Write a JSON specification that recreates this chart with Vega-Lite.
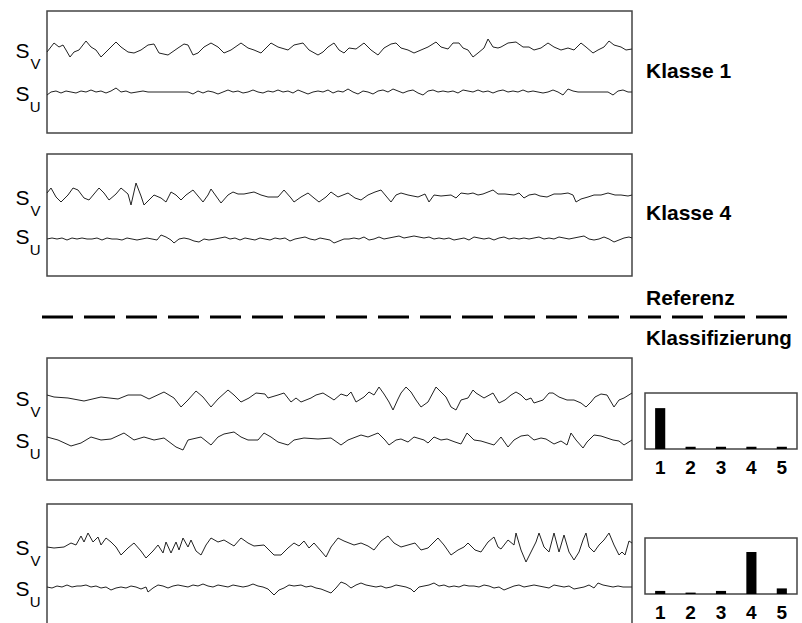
{
"$schema": "https://vega.github.io/schema/vega-lite/v6.json",
"background": "white",
"padding": {"left": 14, "top": 10, "right": 0, "bottom": 0},
"config": {"view": {"stroke": "#444", "strokeWidth": 1.5}, "font": "Liberation Sans"},
"datasets": {
"p1": [
{"c":"V","t":0,"v":81},{"c":"V","t":7,"v":90},{"c":"V","t":12,"v":86},{"c":"V","t":16,"v":88},{"c":"V","t":19,"v":83},{"c":"V","t":23,"v":76},{"c":"V","t":27,"v":81},{"c":"V","t":32,"v":83},{"c":"V","t":39,"v":92},{"c":"V","t":44,"v":86},{"c":"V","t":49,"v":83},{"c":"V","t":54,"v":76},{"c":"V","t":61,"v":83},{"c":"V","t":69,"v":91},{"c":"V","t":74,"v":86},{"c":"V","t":81,"v":81},{"c":"V","t":87,"v":80},{"c":"V","t":94,"v":83},{"c":"V","t":101,"v":88},{"c":"V","t":107,"v":89},{"c":"V","t":112,"v":80},{"c":"V","t":121,"v":78},{"c":"V","t":131,"v":85},{"c":"V","t":137,"v":89},{"c":"V","t":141,"v":88},{"c":"V","t":146,"v":78},{"c":"V","t":151,"v":80},{"c":"V","t":157,"v":86},{"c":"V","t":164,"v":90},{"c":"V","t":171,"v":86},{"c":"V","t":177,"v":80},{"c":"V","t":184,"v":83},{"c":"V","t":194,"v":90},{"c":"V","t":201,"v":85},{"c":"V","t":207,"v":83},{"c":"V","t":214,"v":80},{"c":"V","t":224,"v":90},{"c":"V","t":231,"v":86},{"c":"V","t":241,"v":83},{"c":"V","t":247,"v":88},{"c":"V","t":256,"v":90},{"c":"V","t":262,"v":83},{"c":"V","t":271,"v":78},{"c":"V","t":276,"v":81},{"c":"V","t":281,"v":86},{"c":"V","t":287,"v":90},{"c":"V","t":292,"v":83},{"c":"V","t":297,"v":80},{"c":"V","t":302,"v":85},{"c":"V","t":309,"v":84},{"c":"V","t":317,"v":90},{"c":"V","t":324,"v":83},{"c":"V","t":331,"v":78},{"c":"V","t":337,"v":85},{"c":"V","t":344,"v":89},{"c":"V","t":349,"v":90},{"c":"V","t":354,"v":85},{"c":"V","t":361,"v":83},{"c":"V","t":367,"v":80},{"c":"V","t":374,"v":83},{"c":"V","t":381,"v":86},{"c":"V","t":389,"v":91},{"c":"V","t":394,"v":86},{"c":"V","t":401,"v":84},{"c":"V","t":406,"v":90},{"c":"V","t":412,"v":90},{"c":"V","t":416,"v":85},{"c":"V","t":421,"v":83},{"c":"V","t":426,"v":76},{"c":"V","t":431,"v":80},{"c":"V","t":437,"v":85},{"c":"V","t":441,"v":94},{"c":"V","t":446,"v":86},{"c":"V","t":451,"v":85},{"c":"V","t":454,"v":86},{"c":"V","t":461,"v":90},{"c":"V","t":469,"v":91},{"c":"V","t":476,"v":86},{"c":"V","t":482,"v":86},{"c":"V","t":487,"v":83},{"c":"V","t":494,"v":85},{"c":"V","t":501,"v":90},{"c":"V","t":507,"v":86},{"c":"V","t":514,"v":83},{"c":"V","t":521,"v":85},{"c":"V","t":527,"v":83},{"c":"V","t":534,"v":90},{"c":"V","t":539,"v":86},{"c":"V","t":546,"v":80},{"c":"V","t":551,"v":83},{"c":"V","t":557,"v":86},{"c":"V","t":562,"v":92},{"c":"V","t":567,"v":88},{"c":"V","t":574,"v":86},{"c":"V","t":579,"v":83},{"c":"V","t":585,"v":84},
{"c":"U","t":0,"v":38},{"c":"U","t":4,"v":41},{"c":"U","t":9,"v":42},{"c":"U","t":14,"v":40},{"c":"U","t":19,"v":42},{"c":"U","t":24,"v":41},{"c":"U","t":29,"v":40},{"c":"U","t":34,"v":42},{"c":"U","t":39,"v":41},{"c":"U","t":44,"v":43},{"c":"U","t":49,"v":41},{"c":"U","t":54,"v":42},{"c":"U","t":59,"v":40},{"c":"U","t":64,"v":42},{"c":"U","t":69,"v":45},{"c":"U","t":74,"v":41},{"c":"U","t":79,"v":42},{"c":"U","t":84,"v":40},{"c":"U","t":90,"v":41},{"c":"U","t":96,"v":42},{"c":"U","t":101,"v":41},{"c":"U","t":106,"v":41},{"c":"U","t":141,"v":41},{"c":"U","t":146,"v":39},{"c":"U","t":151,"v":42},{"c":"U","t":156,"v":40},{"c":"U","t":161,"v":42},{"c":"U","t":166,"v":41},{"c":"U","t":171,"v":39},{"c":"U","t":176,"v":41},{"c":"U","t":181,"v":43},{"c":"U","t":186,"v":41},{"c":"U","t":191,"v":42},{"c":"U","t":196,"v":40},{"c":"U","t":201,"v":41},{"c":"U","t":206,"v":43},{"c":"U","t":211,"v":41},{"c":"U","t":216,"v":40},{"c":"U","t":221,"v":42},{"c":"U","t":226,"v":41},{"c":"U","t":231,"v":43},{"c":"U","t":236,"v":41},{"c":"U","t":241,"v":42},{"c":"U","t":246,"v":40},{"c":"U","t":251,"v":43},{"c":"U","t":256,"v":41},{"c":"U","t":261,"v":39},{"c":"U","t":266,"v":41},{"c":"U","t":271,"v":42},{"c":"U","t":276,"v":41},{"c":"U","t":281,"v":43},{"c":"U","t":286,"v":40},{"c":"U","t":291,"v":42},{"c":"U","t":296,"v":41},{"c":"U","t":301,"v":44},{"c":"U","t":306,"v":41},{"c":"U","t":311,"v":39},{"c":"U","t":316,"v":42},{"c":"U","t":321,"v":41},{"c":"U","t":326,"v":39},{"c":"U","t":331,"v":42},{"c":"U","t":336,"v":43},{"c":"U","t":341,"v":41},{"c":"U","t":346,"v":44},{"c":"U","t":351,"v":42},{"c":"U","t":356,"v":40},{"c":"U","t":361,"v":42},{"c":"U","t":366,"v":43},{"c":"U","t":371,"v":40},{"c":"U","t":376,"v":38},{"c":"U","t":381,"v":42},{"c":"U","t":386,"v":43},{"c":"U","t":391,"v":41},{"c":"U","t":396,"v":42},{"c":"U","t":401,"v":41},{"c":"U","t":406,"v":42},{"c":"U","t":411,"v":40},{"c":"U","t":416,"v":43},{"c":"U","t":421,"v":42},{"c":"U","t":426,"v":41},{"c":"U","t":431,"v":43},{"c":"U","t":436,"v":41},{"c":"U","t":441,"v":42},{"c":"U","t":446,"v":40},{"c":"U","t":451,"v":42},{"c":"U","t":456,"v":43},{"c":"U","t":461,"v":41},{"c":"U","t":466,"v":42},{"c":"U","t":471,"v":41},{"c":"U","t":476,"v":43},{"c":"U","t":481,"v":41},{"c":"U","t":486,"v":42},{"c":"U","t":491,"v":41},{"c":"U","t":496,"v":40},{"c":"U","t":501,"v":41},{"c":"U","t":506,"v":43},{"c":"U","t":511,"v":41},{"c":"U","t":516,"v":38},{"c":"U","t":521,"v":44},{"c":"U","t":526,"v":42},{"c":"U","t":531,"v":41},{"c":"U","t":536,"v":41},{"c":"U","t":561,"v":41},{"c":"U","t":566,"v":38},{"c":"U","t":571,"v":42},{"c":"U","t":576,"v":43},{"c":"U","t":581,"v":41},{"c":"U","t":585,"v":41}
],
"p2": [
{"c":"V","t":0,"v":83},{"c":"V","t":4,"v":88},{"c":"V","t":9,"v":79},{"c":"V","t":14,"v":74},{"c":"V","t":21,"v":81},{"c":"V","t":26,"v":88},{"c":"V","t":31,"v":86},{"c":"V","t":37,"v":78},{"c":"V","t":42,"v":76},{"c":"V","t":47,"v":82},{"c":"V","t":52,"v":88},{"c":"V","t":57,"v":83},{"c":"V","t":62,"v":76},{"c":"V","t":69,"v":82},{"c":"V","t":74,"v":88},{"c":"V","t":81,"v":82},{"c":"V","t":84,"v":71},{"c":"V","t":89,"v":93},{"c":"V","t":94,"v":80},{"c":"V","t":97,"v":71},{"c":"V","t":102,"v":76},{"c":"V","t":107,"v":81},{"c":"V","t":114,"v":78},{"c":"V","t":119,"v":74},{"c":"V","t":124,"v":84},{"c":"V","t":129,"v":81},{"c":"V","t":134,"v":76},{"c":"V","t":139,"v":81},{"c":"V","t":146,"v":86},{"c":"V","t":151,"v":80},{"c":"V","t":156,"v":74},{"c":"V","t":161,"v":81},{"c":"V","t":164,"v":87},{"c":"V","t":169,"v":80},{"c":"V","t":174,"v":73},{"c":"V","t":181,"v":81},{"c":"V","t":186,"v":84},{"c":"V","t":191,"v":82},{"c":"V","t":197,"v":82},{"c":"V","t":207,"v":84},{"c":"V","t":214,"v":81},{"c":"V","t":221,"v":79},{"c":"V","t":231,"v":79},{"c":"V","t":237,"v":86},{"c":"V","t":244,"v":78},{"c":"V","t":247,"v":74},{"c":"V","t":254,"v":79},{"c":"V","t":261,"v":83},{"c":"V","t":267,"v":78},{"c":"V","t":272,"v":74},{"c":"V","t":279,"v":79},{"c":"V","t":284,"v":84},{"c":"V","t":291,"v":79},{"c":"V","t":296,"v":81},{"c":"V","t":301,"v":83},{"c":"V","t":308,"v":78},{"c":"V","t":314,"v":76},{"c":"V","t":321,"v":81},{"c":"V","t":328,"v":84},{"c":"V","t":334,"v":86},{"c":"V","t":339,"v":80},{"c":"V","t":344,"v":74},{"c":"V","t":349,"v":81},{"c":"V","t":354,"v":83},{"c":"V","t":361,"v":81},{"c":"V","t":371,"v":79},{"c":"V","t":378,"v":82},{"c":"V","t":382,"v":74},{"c":"V","t":387,"v":81},{"c":"V","t":394,"v":80},{"c":"V","t":404,"v":81},{"c":"V","t":409,"v":78},{"c":"V","t":414,"v":83},{"c":"V","t":421,"v":82},{"c":"V","t":426,"v":83},{"c":"V","t":431,"v":81},{"c":"V","t":436,"v":82},{"c":"V","t":446,"v":86},{"c":"V","t":451,"v":82},{"c":"V","t":458,"v":82},{"c":"V","t":467,"v":81},{"c":"V","t":472,"v":83},{"c":"V","t":477,"v":78},{"c":"V","t":482,"v":81},{"c":"V","t":488,"v":82},{"c":"V","t":493,"v":80},{"c":"V","t":500,"v":79},{"c":"V","t":507,"v":82},{"c":"V","t":514,"v":82},{"c":"V","t":521,"v":83},{"c":"V","t":526,"v":81},{"c":"V","t":529,"v":74},{"c":"V","t":534,"v":77},{"c":"V","t":541,"v":79},{"c":"V","t":547,"v":81},{"c":"V","t":554,"v":81},{"c":"V","t":561,"v":83},{"c":"V","t":568,"v":81},{"c":"V","t":574,"v":81},{"c":"V","t":581,"v":80},{"c":"V","t":585,"v":81},
{"c":"U","t":0,"v":37},{"c":"U","t":5,"v":38},{"c":"U","t":10,"v":37},{"c":"U","t":15,"v":38},{"c":"U","t":20,"v":36},{"c":"U","t":25,"v":38},{"c":"U","t":30,"v":37},{"c":"U","t":35,"v":38},{"c":"U","t":40,"v":37},{"c":"U","t":45,"v":37},{"c":"U","t":50,"v":38},{"c":"U","t":55,"v":36},{"c":"U","t":60,"v":38},{"c":"U","t":65,"v":37},{"c":"U","t":70,"v":37},{"c":"U","t":75,"v":36},{"c":"U","t":80,"v":38},{"c":"U","t":85,"v":37},{"c":"U","t":90,"v":36},{"c":"U","t":95,"v":37},{"c":"U","t":100,"v":38},{"c":"U","t":105,"v":37},{"c":"U","t":110,"v":36},{"c":"U","t":114,"v":41},{"c":"U","t":119,"v":39},{"c":"U","t":124,"v":36},{"c":"U","t":127,"v":33},{"c":"U","t":132,"v":37},{"c":"U","t":137,"v":38},{"c":"U","t":142,"v":37},{"c":"U","t":147,"v":35},{"c":"U","t":152,"v":34},{"c":"U","t":157,"v":37},{"c":"U","t":162,"v":36},{"c":"U","t":168,"v":37},{"c":"U","t":173,"v":38},{"c":"U","t":178,"v":39},{"c":"U","t":183,"v":37},{"c":"U","t":188,"v":38},{"c":"U","t":193,"v":36},{"c":"U","t":198,"v":38},{"c":"U","t":203,"v":37},{"c":"U","t":208,"v":36},{"c":"U","t":213,"v":38},{"c":"U","t":218,"v":37},{"c":"U","t":223,"v":36},{"c":"U","t":228,"v":38},{"c":"U","t":233,"v":37},{"c":"U","t":238,"v":38},{"c":"U","t":243,"v":35},{"c":"U","t":248,"v":37},{"c":"U","t":253,"v":38},{"c":"U","t":258,"v":39},{"c":"U","t":263,"v":37},{"c":"U","t":268,"v":36},{"c":"U","t":273,"v":38},{"c":"U","t":278,"v":37},{"c":"U","t":283,"v":36},{"c":"U","t":287,"v":33},{"c":"U","t":292,"v":35},{"c":"U","t":297,"v":37},{"c":"U","t":302,"v":37},{"c":"U","t":307,"v":38},{"c":"U","t":312,"v":37},{"c":"U","t":317,"v":39},{"c":"U","t":322,"v":36},{"c":"U","t":327,"v":37},{"c":"U","t":332,"v":39},{"c":"U","t":337,"v":37},{"c":"U","t":342,"v":38},{"c":"U","t":347,"v":39},{"c":"U","t":352,"v":40},{"c":"U","t":357,"v":38},{"c":"U","t":362,"v":39},{"c":"U","t":367,"v":40},{"c":"U","t":372,"v":39},{"c":"U","t":377,"v":38},{"c":"U","t":382,"v":39},{"c":"U","t":387,"v":37},{"c":"U","t":392,"v":38},{"c":"U","t":397,"v":37},{"c":"U","t":402,"v":38},{"c":"U","t":407,"v":36},{"c":"U","t":412,"v":37},{"c":"U","t":417,"v":38},{"c":"U","t":422,"v":36},{"c":"U","t":427,"v":39},{"c":"U","t":432,"v":38},{"c":"U","t":437,"v":37},{"c":"U","t":442,"v":38},{"c":"U","t":447,"v":36},{"c":"U","t":452,"v":38},{"c":"U","t":457,"v":39},{"c":"U","t":462,"v":37},{"c":"U","t":467,"v":38},{"c":"U","t":472,"v":37},{"c":"U","t":477,"v":38},{"c":"U","t":482,"v":37},{"c":"U","t":487,"v":38},{"c":"U","t":492,"v":39},{"c":"U","t":497,"v":37},{"c":"U","t":502,"v":38},{"c":"U","t":507,"v":37},{"c":"U","t":512,"v":39},{"c":"U","t":517,"v":38},{"c":"U","t":522,"v":37},{"c":"U","t":527,"v":38},{"c":"U","t":532,"v":39},{"c":"U","t":537,"v":40},{"c":"U","t":542,"v":37},{"c":"U","t":547,"v":36},{"c":"U","t":552,"v":37},{"c":"U","t":557,"v":39},{"c":"U","t":562,"v":37},{"c":"U","t":567,"v":34},{"c":"U","t":572,"v":36},{"c":"U","t":577,"v":38},{"c":"U","t":582,"v":39},{"c":"U","t":585,"v":38}
],
"p3": [
{"c":"V","t":0,"v":85},{"c":"V","t":7,"v":83},{"c":"V","t":21,"v":82},{"c":"V","t":37,"v":79},{"c":"V","t":54,"v":83},{"c":"V","t":71,"v":81},{"c":"V","t":81,"v":85},{"c":"V","t":94,"v":85},{"c":"V","t":102,"v":81},{"c":"V","t":117,"v":88},{"c":"V","t":127,"v":82},{"c":"V","t":134,"v":73},{"c":"V","t":141,"v":80},{"c":"V","t":149,"v":89},{"c":"V","t":156,"v":83},{"c":"V","t":164,"v":73},{"c":"V","t":171,"v":81},{"c":"V","t":181,"v":90},{"c":"V","t":187,"v":85},{"c":"V","t":194,"v":78},{"c":"V","t":202,"v":82},{"c":"V","t":209,"v":87},{"c":"V","t":218,"v":86},{"c":"V","t":221,"v":82},{"c":"V","t":231,"v":85},{"c":"V","t":237,"v":87},{"c":"V","t":244,"v":78},{"c":"V","t":249,"v":82},{"c":"V","t":254,"v":78},{"c":"V","t":264,"v":82},{"c":"V","t":269,"v":85},{"c":"V","t":276,"v":87},{"c":"V","t":284,"v":82},{"c":"V","t":287,"v":80},{"c":"V","t":294,"v":86},{"c":"V","t":300,"v":84},{"c":"V","t":304,"v":88},{"c":"V","t":309,"v":78},{"c":"V","t":317,"v":83},{"c":"V","t":322,"v":88},{"c":"V","t":327,"v":85},{"c":"V","t":332,"v":93},{"c":"V","t":337,"v":86},{"c":"V","t":342,"v":78},{"c":"V","t":346,"v":70},{"c":"V","t":351,"v":81},{"c":"V","t":354,"v":87},{"c":"V","t":359,"v":93},{"c":"V","t":364,"v":88},{"c":"V","t":369,"v":80},{"c":"V","t":374,"v":73},{"c":"V","t":381,"v":78},{"c":"V","t":389,"v":93},{"c":"V","t":394,"v":88},{"c":"V","t":399,"v":83},{"c":"V","t":404,"v":73},{"c":"V","t":409,"v":70},{"c":"V","t":414,"v":80},{"c":"V","t":421,"v":82},{"c":"V","t":426,"v":90},{"c":"V","t":429,"v":87},{"c":"V","t":437,"v":82},{"c":"V","t":446,"v":87},{"c":"V","t":452,"v":77},{"c":"V","t":458,"v":80},{"c":"V","t":464,"v":85},{"c":"V","t":469,"v":88},{"c":"V","t":474,"v":85},{"c":"V","t":479,"v":80},{"c":"V","t":484,"v":82},{"c":"V","t":487,"v":77},{"c":"V","t":496,"v":80},{"c":"V","t":502,"v":87},{"c":"V","t":506,"v":87},{"c":"V","t":512,"v":83},{"c":"V","t":520,"v":80},{"c":"V","t":527,"v":80},{"c":"V","t":534,"v":77},{"c":"V","t":539,"v":73},{"c":"V","t":544,"v":78},{"c":"V","t":548,"v":83},{"c":"V","t":554,"v":86},{"c":"V","t":560,"v":85},{"c":"V","t":567,"v":73},{"c":"V","t":572,"v":80},{"c":"V","t":577,"v":82},{"c":"V","t":585,"v":87},
{"c":"U","t":0,"v":43},{"c":"U","t":11,"v":40},{"c":"U","t":24,"v":34},{"c":"U","t":34,"v":37},{"c":"U","t":44,"v":43},{"c":"U","t":54,"v":40},{"c":"U","t":64,"v":41},{"c":"U","t":77,"v":47},{"c":"U","t":87,"v":40},{"c":"U","t":97,"v":43},{"c":"U","t":107,"v":40},{"c":"U","t":117,"v":42},{"c":"U","t":129,"v":33},{"c":"U","t":136,"v":30},{"c":"U","t":141,"v":40},{"c":"U","t":154,"v":43},{"c":"U","t":164,"v":35},{"c":"U","t":171,"v":43},{"c":"U","t":177,"v":46},{"c":"U","t":187,"v":48},{"c":"U","t":194,"v":43},{"c":"U","t":201,"v":40},{"c":"U","t":211,"v":40},{"c":"U","t":217,"v":47},{"c":"U","t":224,"v":43},{"c":"U","t":231,"v":38},{"c":"U","t":241,"v":35},{"c":"U","t":247,"v":40},{"c":"U","t":257,"v":42},{"c":"U","t":271,"v":41},{"c":"U","t":284,"v":42},{"c":"U","t":294,"v":35},{"c":"U","t":301,"v":40},{"c":"U","t":314,"v":45},{"c":"U","t":321,"v":43},{"c":"U","t":331,"v":47},{"c":"U","t":338,"v":40},{"c":"U","t":342,"v":35},{"c":"U","t":349,"v":40},{"c":"U","t":354,"v":41},{"c":"U","t":361,"v":38},{"c":"U","t":367,"v":43},{"c":"U","t":377,"v":40},{"c":"U","t":381,"v":37},{"c":"U","t":387,"v":43},{"c":"U","t":394,"v":40},{"c":"U","t":400,"v":41},{"c":"U","t":408,"v":38},{"c":"U","t":414,"v":36},{"c":"U","t":420,"v":47},{"c":"U","t":427,"v":40},{"c":"U","t":434,"v":39},{"c":"U","t":447,"v":35},{"c":"U","t":454,"v":43},{"c":"U","t":461,"v":33},{"c":"U","t":467,"v":40},{"c":"U","t":474,"v":44},{"c":"U","t":481,"v":45},{"c":"U","t":487,"v":40},{"c":"U","t":494,"v":42},{"c":"U","t":499,"v":41},{"c":"U","t":507,"v":36},{"c":"U","t":514,"v":39},{"c":"U","t":520,"v":35},{"c":"U","t":524,"v":47},{"c":"U","t":529,"v":40},{"c":"U","t":536,"v":32},{"c":"U","t":540,"v":38},{"c":"U","t":547,"v":45},{"c":"U","t":554,"v":44},{"c":"U","t":560,"v":42},{"c":"U","t":566,"v":40},{"c":"U","t":572,"v":39},{"c":"U","t":577,"v":35},{"c":"U","t":585,"v":40}
],
"p4": [
{"c":"V","t":0,"v":79},{"c":"V","t":7,"v":78},{"c":"V","t":17,"v":79},{"c":"V","t":24,"v":83},{"c":"V","t":29,"v":81},{"c":"V","t":34,"v":90},{"c":"V","t":37,"v":84},{"c":"V","t":41,"v":93},{"c":"V","t":46,"v":84},{"c":"V","t":51,"v":89},{"c":"V","t":54,"v":81},{"c":"V","t":59,"v":88},{"c":"V","t":64,"v":84},{"c":"V","t":69,"v":79},{"c":"V","t":74,"v":71},{"c":"V","t":81,"v":78},{"c":"V","t":87,"v":83},{"c":"V","t":94,"v":75},{"c":"V","t":99,"v":68},{"c":"V","t":106,"v":75},{"c":"V","t":111,"v":81},{"c":"V","t":116,"v":73},{"c":"V","t":119,"v":84},{"c":"V","t":124,"v":73},{"c":"V","t":129,"v":84},{"c":"V","t":132,"v":76},{"c":"V","t":136,"v":88},{"c":"V","t":141,"v":79},{"c":"V","t":144,"v":86},{"c":"V","t":149,"v":75},{"c":"V","t":154,"v":71},{"c":"V","t":159,"v":81},{"c":"V","t":164,"v":88},{"c":"V","t":171,"v":84},{"c":"V","t":177,"v":86},{"c":"V","t":187,"v":80},{"c":"V","t":194,"v":88},{"c":"V","t":201,"v":83},{"c":"V","t":207,"v":80},{"c":"V","t":217,"v":81},{"c":"V","t":227,"v":71},{"c":"V","t":234,"v":71},{"c":"V","t":241,"v":78},{"c":"V","t":247,"v":83},{"c":"V","t":252,"v":80},{"c":"V","t":257,"v":85},{"c":"V","t":262,"v":78},{"c":"V","t":267,"v":83},{"c":"V","t":274,"v":75},{"c":"V","t":279,"v":69},{"c":"V","t":284,"v":79},{"c":"V","t":291,"v":88},{"c":"V","t":297,"v":85},{"c":"V","t":307,"v":81},{"c":"V","t":314,"v":83},{"c":"V","t":321,"v":80},{"c":"V","t":327,"v":76},{"c":"V","t":334,"v":85},{"c":"V","t":341,"v":90},{"c":"V","t":347,"v":83},{"c":"V","t":354,"v":79},{"c":"V","t":361,"v":81},{"c":"V","t":368,"v":83},{"c":"V","t":374,"v":76},{"c":"V","t":381,"v":78},{"c":"V","t":387,"v":84},{"c":"V","t":391,"v":88},{"c":"V","t":397,"v":81},{"c":"V","t":404,"v":71},{"c":"V","t":411,"v":76},{"c":"V","t":417,"v":79},{"c":"V","t":421,"v":83},{"c":"V","t":428,"v":76},{"c":"V","t":434,"v":74},{"c":"V","t":441,"v":84},{"c":"V","t":447,"v":89},{"c":"V","t":451,"v":79},{"c":"V","t":454,"v":77},{"c":"V","t":461,"v":86},{"c":"V","t":467,"v":81},{"c":"V","t":469,"v":93},{"c":"V","t":474,"v":76},{"c":"V","t":479,"v":64},{"c":"V","t":484,"v":74},{"c":"V","t":489,"v":84},{"c":"V","t":492,"v":93},{"c":"V","t":497,"v":79},{"c":"V","t":502,"v":74},{"c":"V","t":507,"v":93},{"c":"V","t":512,"v":74},{"c":"V","t":517,"v":91},{"c":"V","t":522,"v":74},{"c":"V","t":527,"v":66},{"c":"V","t":532,"v":74},{"c":"V","t":536,"v":86},{"c":"V","t":539,"v":93},{"c":"V","t":542,"v":79},{"c":"V","t":547,"v":74},{"c":"V","t":552,"v":81},{"c":"V","t":557,"v":86},{"c":"V","t":562,"v":93},{"c":"V","t":567,"v":81},{"c":"V","t":572,"v":71},{"c":"V","t":575,"v":74},{"c":"V","t":578,"v":71},{"c":"V","t":582,"v":85},{"c":"V","t":585,"v":83},
{"c":"U","t":0,"v":39},{"c":"U","t":5,"v":38},{"c":"U","t":10,"v":40},{"c":"U","t":15,"v":39},{"c":"U","t":20,"v":41},{"c":"U","t":25,"v":39},{"c":"U","t":30,"v":40},{"c":"U","t":34,"v":40},{"c":"U","t":39,"v":41},{"c":"U","t":44,"v":39},{"c":"U","t":49,"v":40},{"c":"U","t":54,"v":38},{"c":"U","t":59,"v":39},{"c":"U","t":64,"v":36},{"c":"U","t":69,"v":38},{"c":"U","t":74,"v":39},{"c":"U","t":79,"v":38},{"c":"U","t":84,"v":40},{"c":"U","t":89,"v":39},{"c":"U","t":94,"v":37},{"c":"U","t":99,"v":39},{"c":"U","t":101,"v":34},{"c":"U","t":106,"v":38},{"c":"U","t":111,"v":41},{"c":"U","t":116,"v":40},{"c":"U","t":121,"v":38},{"c":"U","t":126,"v":40},{"c":"U","t":131,"v":41},{"c":"U","t":136,"v":40},{"c":"U","t":141,"v":39},{"c":"U","t":146,"v":41},{"c":"U","t":151,"v":40},{"c":"U","t":156,"v":42},{"c":"U","t":161,"v":40},{"c":"U","t":166,"v":39},{"c":"U","t":171,"v":41},{"c":"U","t":176,"v":40},{"c":"U","t":181,"v":39},{"c":"U","t":186,"v":41},{"c":"U","t":191,"v":40},{"c":"U","t":196,"v":39},{"c":"U","t":201,"v":40},{"c":"U","t":206,"v":42},{"c":"U","t":211,"v":40},{"c":"U","t":216,"v":39},{"c":"U","t":221,"v":37},{"c":"U","t":227,"v":31},{"c":"U","t":232,"v":36},{"c":"U","t":237,"v":38},{"c":"U","t":242,"v":41},{"c":"U","t":247,"v":40},{"c":"U","t":254,"v":41},{"c":"U","t":259,"v":39},{"c":"U","t":264,"v":40},{"c":"U","t":269,"v":38},{"c":"U","t":274,"v":37},{"c":"U","t":279,"v":35},{"c":"U","t":284,"v":33},{"c":"U","t":289,"v":38},{"c":"U","t":294,"v":44},{"c":"U","t":299,"v":42},{"c":"U","t":304,"v":38},{"c":"U","t":309,"v":41},{"c":"U","t":314,"v":43},{"c":"U","t":319,"v":41},{"c":"U","t":324,"v":40},{"c":"U","t":329,"v":39},{"c":"U","t":334,"v":40},{"c":"U","t":339,"v":38},{"c":"U","t":344,"v":39},{"c":"U","t":349,"v":41},{"c":"U","t":354,"v":40},{"c":"U","t":359,"v":39},{"c":"U","t":364,"v":37},{"c":"U","t":367,"v":34},{"c":"U","t":372,"v":39},{"c":"U","t":377,"v":40},{"c":"U","t":382,"v":41},{"c":"U","t":387,"v":43},{"c":"U","t":392,"v":40},{"c":"U","t":397,"v":41},{"c":"U","t":402,"v":39},{"c":"U","t":407,"v":40},{"c":"U","t":412,"v":39},{"c":"U","t":417,"v":41},{"c":"U","t":422,"v":40},{"c":"U","t":427,"v":40},{"c":"U","t":432,"v":39},{"c":"U","t":437,"v":41},{"c":"U","t":442,"v":40},{"c":"U","t":447,"v":38},{"c":"U","t":452,"v":39},{"c":"U","t":457,"v":36},{"c":"U","t":462,"v":38},{"c":"U","t":467,"v":40},{"c":"U","t":472,"v":41},{"c":"U","t":477,"v":39},{"c":"U","t":482,"v":40},{"c":"U","t":487,"v":41},{"c":"U","t":492,"v":40},{"c":"U","t":497,"v":39},{"c":"U","t":502,"v":38},{"c":"U","t":507,"v":41},{"c":"U","t":512,"v":40},{"c":"U","t":517,"v":39},{"c":"U","t":522,"v":40},{"c":"U","t":527,"v":37},{"c":"U","t":532,"v":38},{"c":"U","t":537,"v":39},{"c":"U","t":542,"v":41},{"c":"U","t":547,"v":38},{"c":"U","t":551,"v":43},{"c":"U","t":556,"v":41},{"c":"U","t":561,"v":40},{"c":"U","t":566,"v":39},{"c":"U","t":571,"v":40},{"c":"U","t":576,"v":39},{"c":"U","t":581,"v":39},{"c":"U","t":585,"v":39}
],
"b3": [{"k":"1","p":0.73},{"k":"2","p":0.04},{"k":"3","p":0.04},{"k":"4","p":0.04},{"k":"5","p":0.04}],
"b4": [{"k":"1","p":0.055},{"k":"2","p":0.025},{"k":"3","p":0.055},{"k":"4","p":0.75},{"k":"5","p":0.1}]
},
"spacing": 0,
"vconcat": [
{"spacing": 19, "vconcat": [
 {"width": 585, "height": 122, "data": {"name": "p1"},
  "layer": [
   {"transform": [{"filter": {"field": "c", "equal": "V"}}], "mark": {"type": "line", "color": "#222", "strokeWidth": 1},
    "encoding": {"x": {"field": "t", "type": "quantitative", "scale": {"domain": [0, 585], "nice": false}, "axis": null},
     "y": {"field": "v", "type": "quantitative", "scale": {"domain": [0, 122], "nice": false}, "axis": {"orient": "left", "values": [83.5, 40.5], "labelExpr": "'S'", "title": null, "ticks": false, "tickSize": 0, "domain": false, "grid": false, "labelFont": "Liberation Sans", "labelFontSize": 21, "labelColor": "#000", "labelPadding": 18, "labelOffset": 1.5, "labelFlush": false, "labelOverlap": false}}}},
   {"transform": [{"filter": {"field": "c", "equal": "U"}}], "mark": {"type": "line", "color": "#222", "strokeWidth": 1},
    "encoding": {"x": {"field": "t", "type": "quantitative", "scale": {"domain": [0, 585], "nice": false}, "axis": null},
     "y": {"field": "v", "type": "quantitative", "scale": {"domain": [0, 122], "nice": false}, "axis": {"orient": "left", "values": [83.5, 40.5], "labelExpr": "datum.value > 60 ? 'V' : 'U'", "title": null, "ticks": false, "tickSize": 0, "domain": false, "grid": false, "labelFont": "Liberation Sans", "labelFontSize": 15, "labelColor": "#000", "labelPadding": 7, "labelOffset": 14, "labelFlush": false, "labelOverlap": false}}}},
   {"data": {"values": [{"label": "Klasse 1"}]}, "mark": {"type": "text", "align": "left", "baseline": "alphabetic", "font": "Liberation Sans", "fontSize": 21, "fontWeight": "bold", "color": "#000"},
    "encoding": {"text": {"field": "label"}, "x": {"datum": 599, "type": "quantitative", "axis": null}, "y": {"datum": 55, "type": "quantitative", "axis": null}}}
  ],
  "resolve": {"axis": {"y": "independent"}}},
 {"width": 585, "height": 122, "data": {"name": "p2"},
  "layer": [
   {"transform": [{"filter": {"field": "c", "equal": "V"}}], "mark": {"type": "line", "color": "#222", "strokeWidth": 1},
    "encoding": {"x": {"field": "t", "type": "quantitative", "scale": {"domain": [0, 585], "nice": false}, "axis": null},
     "y": {"field": "v", "type": "quantitative", "scale": {"domain": [0, 122], "nice": false}, "axis": {"orient": "left", "values": [79.5, 40.5], "labelExpr": "'S'", "title": null, "ticks": false, "tickSize": 0, "domain": false, "grid": false, "labelFont": "Liberation Sans", "labelFontSize": 21, "labelColor": "#000", "labelPadding": 18, "labelOffset": 1.5, "labelFlush": false, "labelOverlap": false}}}},
   {"transform": [{"filter": {"field": "c", "equal": "U"}}], "mark": {"type": "line", "color": "#222", "strokeWidth": 1},
    "encoding": {"x": {"field": "t", "type": "quantitative", "scale": {"domain": [0, 585], "nice": false}, "axis": null},
     "y": {"field": "v", "type": "quantitative", "scale": {"domain": [0, 122], "nice": false}, "axis": {"orient": "left", "values": [79.5, 40.5], "labelExpr": "datum.value > 60 ? 'V' : 'U'", "title": null, "ticks": false, "tickSize": 0, "domain": false, "grid": false, "labelFont": "Liberation Sans", "labelFontSize": 15, "labelColor": "#000", "labelPadding": 7, "labelOffset": 14, "labelFlush": false, "labelOverlap": false}}}},
   {"data": {"values": [{"label": "Klasse 4"}]}, "mark": {"type": "text", "align": "left", "baseline": "alphabetic", "font": "Liberation Sans", "fontSize": 21, "fontWeight": "bold", "color": "#000"},
    "encoding": {"text": {"field": "label"}, "x": {"datum": 599, "type": "quantitative", "axis": null}, "y": {"datum": 56, "type": "quantitative", "axis": null}}}
  ],
  "resolve": {"axis": {"y": "independent"}}}
]},
{"width": 744, "height": 80, "view": {"fill": "transparent", "stroke": null},
 "data": {"values": [{"row": "separator"}]},
 "layer": [
  {"mark": {"type": "rule", "color": "#000", "strokeWidth": 3, "strokeDash": [31, 11]},
   "encoding": {"x": {"datum": -5, "type": "quantitative", "scale": {"domain": [0, 744], "nice": false, "zero": false}, "axis": null}, "x2": {"datum": 744},
    "y": {"datum": 40, "type": "quantitative", "scale": {"domain": [0, 80], "nice": false, "reverse": true}, "axis": null}}},
  {"mark": {"type": "text", "text": "Referenz", "align": "left", "baseline": "alphabetic", "font": "Liberation Sans", "fontSize": 21, "fontWeight": "bold", "color": "#000"},
   "encoding": {"x": {"datum": 599, "type": "quantitative"}, "y": {"datum": 28, "type": "quantitative"}}},
  {"mark": {"type": "text", "text": "Klassifizierung", "align": "left", "baseline": "alphabetic", "font": "Liberation Sans", "fontSize": 20.5, "fontWeight": "bold", "color": "#000"},
   "encoding": {"x": {"datum": 599, "type": "quantitative"}, "y": {"datum": 68, "type": "quantitative"}}}
 ]},
{"spacing": 22, "vconcat": [
 {"spacing": 9, "hconcat": [
  {"width": 585, "height": 122, "data": {"name": "p3"},
   "layer": [
    {"transform": [{"filter": {"field": "c", "equal": "V"}}], "mark": {"type": "line", "color": "#222", "strokeWidth": 1},
     "encoding": {"x": {"field": "t", "type": "quantitative", "scale": {"domain": [0, 585], "nice": false}, "axis": null},
      "y": {"field": "v", "type": "quantitative", "scale": {"domain": [0, 122], "nice": false}, "axis": {"orient": "left", "values": [82.5, 40.5], "labelExpr": "'S'", "title": null, "ticks": false, "tickSize": 0, "domain": false, "grid": false, "labelFont": "Liberation Sans", "labelFontSize": 21, "labelColor": "#000", "labelPadding": 18, "labelOffset": 1.5, "labelFlush": false, "labelOverlap": false}}}},
    {"transform": [{"filter": {"field": "c", "equal": "U"}}], "mark": {"type": "line", "color": "#222", "strokeWidth": 1},
     "encoding": {"x": {"field": "t", "type": "quantitative", "scale": {"domain": [0, 585], "nice": false}, "axis": null},
      "y": {"field": "v", "type": "quantitative", "scale": {"domain": [0, 122], "nice": false}, "axis": {"orient": "left", "values": [82.5, 40.5], "labelExpr": "datum.value > 60 ? 'V' : 'U'", "title": null, "ticks": false, "tickSize": 0, "domain": false, "grid": false, "labelFont": "Liberation Sans", "labelFontSize": 15, "labelColor": "#000", "labelPadding": 7, "labelOffset": 14, "labelFlush": false, "labelOverlap": false}}}}
   ],
   "resolve": {"axis": {"y": "independent"}}},
  {"spacing": 0, "vconcat": [
   {"width": 152, "height": 34, "view": {"fill": "transparent", "stroke": null}, "data": {"values": []}, "mark": "point"},
   {"width": 152, "height": 56, "data": {"name": "b3"}, "mark": {"type": "bar", "color": "#000"},
    "encoding": {"x": {"field": "k", "type": "nominal", "scale": {"paddingInner": 0.667, "paddingOuter": 0.333}, "axis": {"title": null, "labelAngle": 0, "ticks": false, "tickSize": 0, "domain": false, "labelFont": "Liberation Sans", "labelFontSize": 19, "labelFontWeight": "bold", "labelColor": "#000", "labelPadding": 9}},
     "y": {"field": "p", "type": "quantitative", "scale": {"domain": [0, 1], "nice": false}, "axis": null}}}
  ]}
 ]},
 {"spacing": 9, "hconcat": [
  {"width": 585, "height": 122, "data": {"name": "p4"},
   "layer": [
    {"transform": [{"filter": {"field": "c", "equal": "V"}}], "mark": {"type": "line", "color": "#222", "strokeWidth": 1},
     "encoding": {"x": {"field": "t", "type": "quantitative", "scale": {"domain": [0, 585], "nice": false}, "axis": null},
      "y": {"field": "v", "type": "quantitative", "scale": {"domain": [0, 122], "nice": false}, "axis": {"orient": "left", "values": [79.5, 38.5], "labelExpr": "'S'", "title": null, "ticks": false, "tickSize": 0, "domain": false, "grid": false, "labelFont": "Liberation Sans", "labelFontSize": 21, "labelColor": "#000", "labelPadding": 18, "labelOffset": 1.5, "labelFlush": false, "labelOverlap": false}}}},
    {"transform": [{"filter": {"field": "c", "equal": "U"}}], "mark": {"type": "line", "color": "#222", "strokeWidth": 1},
     "encoding": {"x": {"field": "t", "type": "quantitative", "scale": {"domain": [0, 585], "nice": false}, "axis": null},
      "y": {"field": "v", "type": "quantitative", "scale": {"domain": [0, 122], "nice": false}, "axis": {"orient": "left", "values": [79.5, 38.5], "labelExpr": "datum.value > 60 ? 'V' : 'U'", "title": null, "ticks": false, "tickSize": 0, "domain": false, "grid": false, "labelFont": "Liberation Sans", "labelFontSize": 15, "labelColor": "#000", "labelPadding": 7, "labelOffset": 14, "labelFlush": false, "labelOverlap": false}}}}
   ],
   "resolve": {"axis": {"y": "independent"}}},
  {"spacing": 0, "vconcat": [
   {"width": 152, "height": 33, "view": {"fill": "transparent", "stroke": null}, "data": {"values": []}, "mark": "point"},
   {"width": 152, "height": 56, "data": {"name": "b4"}, "mark": {"type": "bar", "color": "#000"},
    "encoding": {"x": {"field": "k", "type": "nominal", "scale": {"paddingInner": 0.667, "paddingOuter": 0.333}, "axis": {"title": null, "labelAngle": 0, "ticks": false, "tickSize": 0, "domain": false, "labelFont": "Liberation Sans", "labelFontSize": 19, "labelFontWeight": "bold", "labelColor": "#000", "labelPadding": 9}},
     "y": {"field": "p", "type": "quantitative", "scale": {"domain": [0, 1], "nice": false}, "axis": null}}}
  ]}
 ]}
]}
]
}
